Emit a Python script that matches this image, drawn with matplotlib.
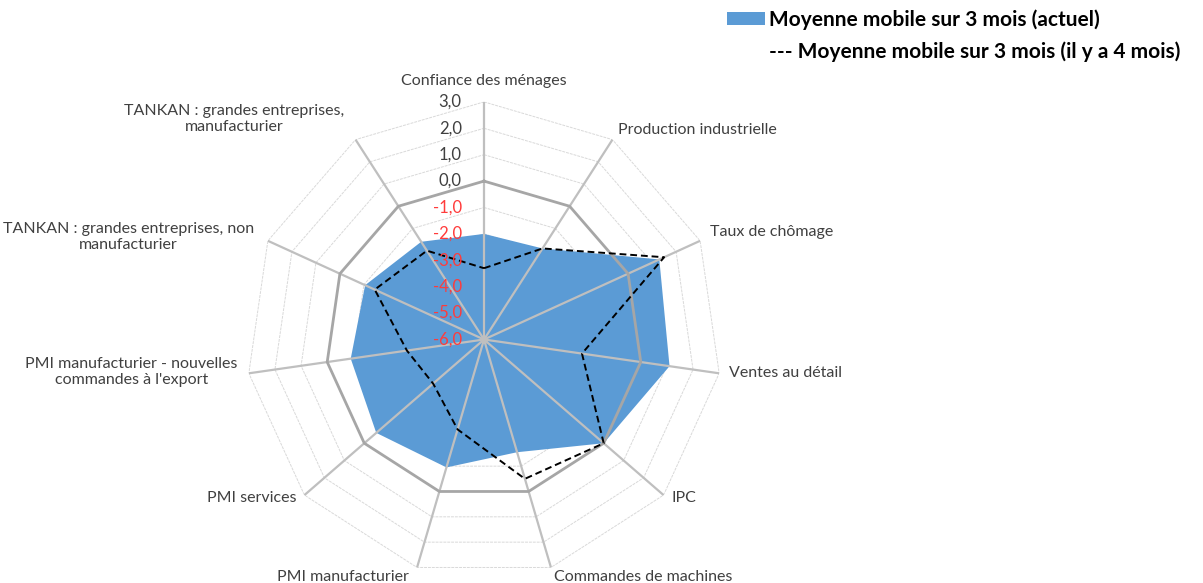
import numpy as np
import matplotlib
matplotlib.use("Agg")
import matplotlib.pyplot as plt
from matplotlib.patches import Patch
from matplotlib.lines import Line2D

plt.rcParams['font.family'] = ['Lato', 'DejaVu Sans']

categories = [
    "Confiance des ménages",
    "Production industrielle",
    "Taux de chômage",
    "Ventes au détail",
    "IPC",
    "Commandes de machines",
    "PMI manufacturier",
    "PMI services",
    "PMI manufacturier - nouvelles\ncommandes à l'export",
    "TANKAN : grandes entreprises, non\nmanufacturier",
    "TANKAN : grandes entreprises,\nmanufacturier",
]
actuel = [-2.0, -1.9, 1.3, 1.1, 0.0, -1.55, -0.95, -0.6, -0.9, -1.05, -1.6]
il_y_a_4_mois = [-3.3, -1.9, 1.5, -2.25, 0.0, -0.5, -2.45, -3.45, -3.05, -1.45, -2.0]
levels = [-6, -5, -4, -3, -2, -1, 0, 1, 2, 3]
label_actuel = "Moyenne mobile sur 3 mois (actuel)"
label_avant = "--- Moyenne mobile sur 3 mois (il y a 4 mois)"

n = len(categories)
theta = np.arange(n) * 2 * np.pi / n
theta_c = np.append(theta, theta[0])

W, H = 1203, 583
fig = plt.figure(figsize=(W / 100, H / 100), dpi=100)
cx, cy, R = 484, 339.5, 237.6
ax = fig.add_axes([(cx - R) / W, (H - cy - R) / H, 2 * R / W, 2 * R / H], projection='polar')
ax.set_theta_zero_location('N')
ax.set_theta_direction(-1)
ax.set_ylim(-6, 3)
ax.grid(False)
ax.spines['polar'].set_visible(False)
ax.set_xticks([])
ax.set_yticks([])
ax.patch.set_alpha(0)

# polygon grid
for lv in levels[1:]:
    if lv != 0:
        ax.plot(theta_c, [lv] * (n + 1), color='#d9d9d9', lw=0.7, ls=(0, (3, 1)), zorder=1)

# series
ax.fill(theta_c, actuel + actuel[:1], color='#5b9bd5', lw=0, zorder=2)

for t in theta:
    ax.plot([t, t], [-6, 3], color='#bfbfbf', lw=1.6, zorder=3)
ax.plot(theta_c, [0] * (n + 1), color='#a6a6a6', lw=2.0, zorder=3)
ax.plot(theta_c, il_y_a_4_mois + il_y_a_4_mois[:1], color='black', lw=1.4,
        ls=(0, (3.5, 2)), zorder=4)
ax.plot([0], [-6], 'o', color='#bfbfbf', ms=4, zorder=3)

# radial tick labels
for lv in levels:
    col = '#404040' if lv >= 0 else '#ff3b3b'
    ax.annotate(f"{lv:.1f}".replace('.', ','), xy=(0, lv), xytext=(-16, 0),
                textcoords='offset points', ha='right', va='center',
                fontsize=12, color=col, zorder=5)

# category labels: (dx, dy offset in points, ha, va)
placements = [
    (0, 10, 'center', 'bottom'),
    (4, 2, 'left', 'bottom'),
    (7, 1, 'left', 'bottom'),
    (7, 0, 'left', 'center'),
    (6, -2, 'left', 'center'),
    (2, -2, 'left', 'top'),
    (-6, -2, 'right', 'top'),
    (-6, -2, 'right', 'center'),
    (-8, 1, 'right', 'center'),
    (-10, 3, 'right', 'center'),
    (-8, 4, 'right', 'bottom'),
]
for t, lab, (dx, dy, ha, va) in zip(theta, categories, placements):
    ax.annotate(lab, xy=(t, 3), xytext=(dx, dy), textcoords='offset points',
                ha=ha, va=va, multialignment='center', fontsize=11.5,
                color='#404040', annotation_clip=False)

handles = [Patch(facecolor='#5b9bd5', edgecolor='none'),
           Line2D([], [], color='none')]
fig.legend(handles, [label_actuel, label_avant], loc='upper left',
           bbox_to_anchor=(727 / W, 1 - 9 / H), frameon=False,
           borderaxespad=0, borderpad=0,
           handlelength=1.8, handleheight=0.6, handletextpad=0.2,
           labelspacing=0.55, prop={'weight': 'bold', 'size': 15})

fig.savefig('out.png', dpi=100)
